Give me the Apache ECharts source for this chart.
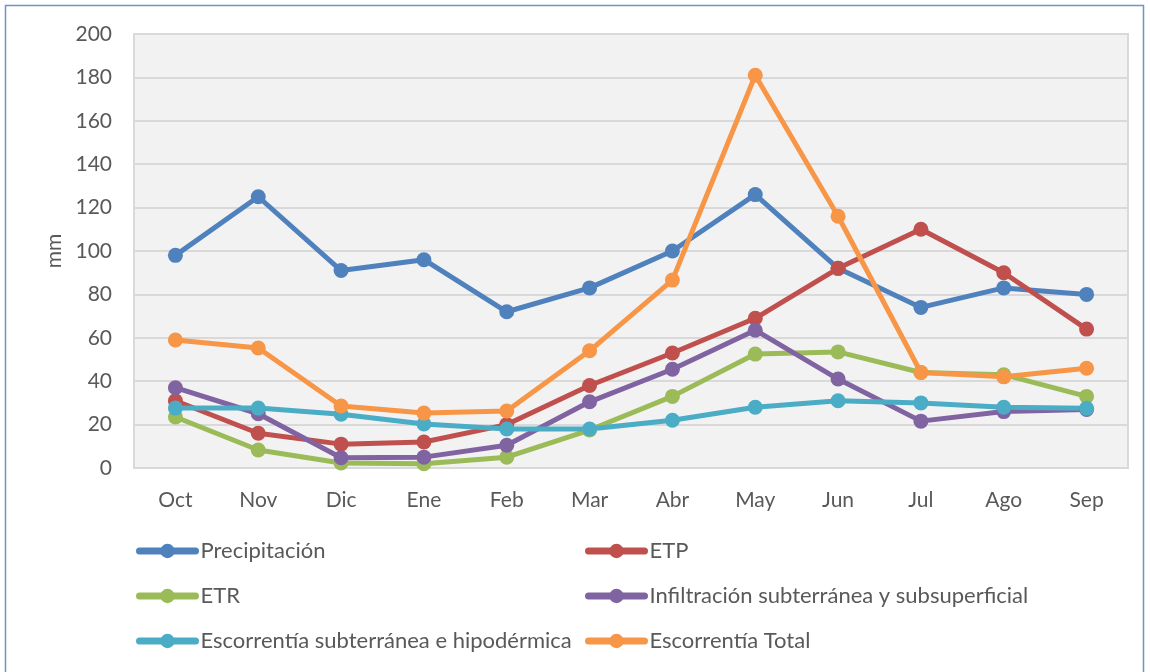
<!DOCTYPE html>
<html><head><meta charset="utf-8">
<script src="https://cdn.jsdelivr.net/npm/echarts@6/dist/echarts.min.js"></script>
<style>html,body{margin:0;padding:0;background:#fff}#c{width:1150px;height:672px}</style>
</head><body><div id="c"></div>
<script>
const categories = ['Oct','Nov','Dic','Ene','Feb','Mar','Abr','May','Jun','Jul','Ago','Sep'];
const precipitacion = [98, 125, 91, 96, 72, 83, 100, 126, 92, 74, 83, 80];
const etp = [31, 16, 11, 12, 20, 38, 53, 69, 92, 110, 90, 64];
const etr = [23.5, 8.3, 2.3, 2, 5, 17.5, 33, 52.5, 53.5, 44, 43, 33];
const infiltracion = [37, 25, 4.7, 5, 10.5, 30.5, 45.5, 63.5, 41, 21.6, 26, 27];
const escSub = [27.6, 27.6, 24.8, 20.3, 18, 18, 22, 28, 31, 30, 28, 27.5];
const escTotal = [59, 55.3, 28.6, 25.3, 26.3, 54, 86.6, 181, 116, 44, 42, 46];
const yTicks = {min: 0, max: 200, interval: 20};

const names = ['Precipitación','ETP','ETR','Infiltración subterránea y subsuperficial','Escorrentía subterránea e hipodérmica','Escorrentía Total'];
const datasets = [precipitacion, etp, etr, infiltracion, escSub, escTotal];
const colors = ['#4F81BD','#C0504D','#9BBB59','#8064A2','#4BACC6','#F79646'];
const FONT = 'Lato';
const TXT = '#595959';

const legendCommon = {orient: 'vertical', top: 540, padding: 0, itemGap: 23, itemWidth: 56, itemHeight: 18,
  lineStyle: {width: 7, cap: 'round'},
  textStyle: {fontFamily: FONT, fontSize: 22, color: TXT}};

const chart = echarts.init(document.getElementById('c'));
chart.setOption({
  animation: false,
  textStyle: {fontFamily: FONT},
  graphic: [{type: 'rect', shape: {x: 5.5, y: 5.5, width: 1138, height: 680}, style: {fill: 'none', stroke: '#6E93C6', lineWidth: 1.5}, silent: true}],
  grid: {left: 134, top: 34, width: 994, height: 434, show: true, backgroundColor: '#F2F2F2', borderColor: '#D9D9D9', borderWidth: 2},
  legend: [
    Object.assign({left: 136, data: [names[0], names[2], names[4]]}, legendCommon),
    Object.assign({left: 585, data: [names[1], names[3], names[5]]}, legendCommon)
  ],
  xAxis: {type: 'category', data: categories, boundaryGap: true,
    axisLine: {show: false}, axisTick: {show: false},
    axisLabel: {fontFamily: FONT, fontSize: 21, color: TXT, margin: 22}},
  yAxis: {type: 'value', min: yTicks.min, max: yTicks.max, interval: yTicks.interval,
    name: 'mm', nameLocation: 'middle', nameGap: 68, nameRotate: 90,
    nameTextStyle: {fontFamily: FONT, fontSize: 21, color: TXT},
    axisLine: {show: false}, axisTick: {show: false},
    axisLabel: {fontFamily: FONT, fontSize: 21, color: TXT, margin: 22},
    splitLine: {lineStyle: {color: '#D9D9D9', width: 2}}},
  series: names.map((n, i) => ({
    name: n, type: 'line', data: datasets[i], color: colors[i],
    symbol: 'circle', symbolSize: 15,
    lineStyle: {width: 5, color: colors[i]}, itemStyle: {color: colors[i]}
  }))
});
</script></body></html>
